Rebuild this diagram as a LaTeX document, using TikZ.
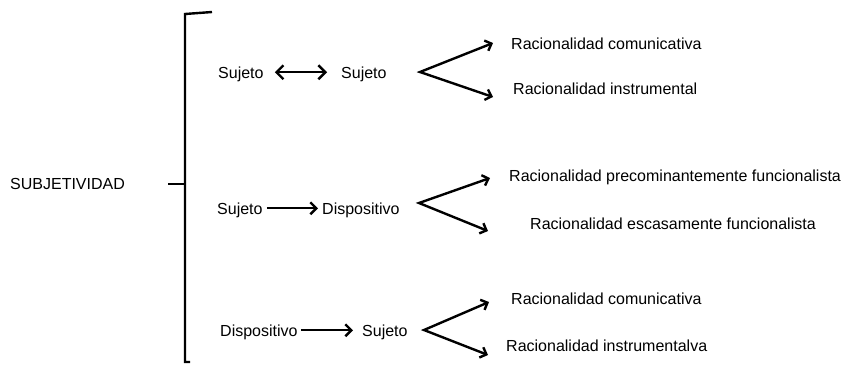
\documentclass[tikz,border=0pt]{standalone}
\usepackage{fontspec}
\setmainfont{Liberation Sans}
\usetikzlibrary{arrows.meta}
\begin{document}
\begin{tikzpicture}[x=1pt,y=-1pt,
  lbl/.style={anchor=base west,inner sep=0pt,text height=11.5pt,text depth=0pt,font=\fontsize{16}{19}\selectfont},
  ln/.style={line width=2.4pt},
  arr/.style={ln,-{Straight Barb[length=6pt,width=12pt,line width=2.4pt]}},
  darr/.style={ln,{Straight Barb[length=7pt,width=14pt,line width=2.4pt]}-{Straight Barb[length=7pt,width=14pt,line width=2.4pt]}},
  varr/.style={ln,{Straight Barb[length=5.5pt,width=11pt,line width=2.4pt]}-{Straight Barb[length=5.5pt,width=11pt,line width=2.4pt]}}]
\useasboundingbox (0,0) rectangle (842,365);
% main label
\node[lbl] (subj) at (10,189) {SUBJETIVIDAD};
% bracket
\coordinate (btop) at (212,12);
\coordinate (bcor) at (185,14);
\coordinate (bbot) at (185,362);
\coordinate (bfoot) at (190,362);
\coordinate (bmid) at (185,184);
\coordinate (btick) at (168,184);
\draw[ln] (btop) -- (bcor) -- (bbot) -- (bfoot);
\draw[ln] (btick) -- (bmid);
% row 1
\node[lbl] (s1a) at (218,78) {Sujeto};
\node[lbl] (s1b) at (341,78) {Sujeto};
\draw[darr,shorten <=11pt,shorten >=14pt] (s1a.east) -- (s1b.west);
\coordinate (a1) at (420,72);
\coordinate (u1) at (493,43);
\coordinate (l1) at (493,97);
\draw[varr] (u1) -- (a1) -- (l1);
\node[lbl] (r1a) at (511,49) {Racionalidad comunicativa};
\node[lbl] (r1b) at (513,94) {Racionalidad instrumental};
% row 2
\node[lbl] (s2a) at (217,214) {Sujeto};
\node[lbl] (d2b) at (322,214) {Dispositivo};
\draw[arr,shorten <=4pt,shorten >=4pt] (s2a.east) -- (d2b.west);
\coordinate (a2) at (419,203);
\coordinate (u2) at (490,178);
\coordinate (l2) at (488,231);
\draw[varr] (u2) -- (a2) -- (l2);
\node[lbl] (r2a) at (509,181) {Racionalidad precominantemente funcionalista};
\node[lbl] (r2b) at (530,229) {Racionalidad escasamente funcionalista};
% row 3
\node[lbl] (d3a) at (220,336) {Dispositivo};
\node[lbl] (s3b) at (362,336) {Sujeto};
\draw[arr,shorten <=3pt,shorten >=9pt] (d3a.east) -- (s3b.west);
\coordinate (a3) at (424,330);
\coordinate (u3) at (489,302);
\coordinate (l3) at (488,355);
\draw[varr] (u3) -- (a3) -- (l3);
\node[lbl] (r3a) at (511,304) {Racionalidad comunicativa};
\node[lbl] (r3b) at (506,351) {Racionalidad instrumentalva};
\end{tikzpicture}
\end{document}
